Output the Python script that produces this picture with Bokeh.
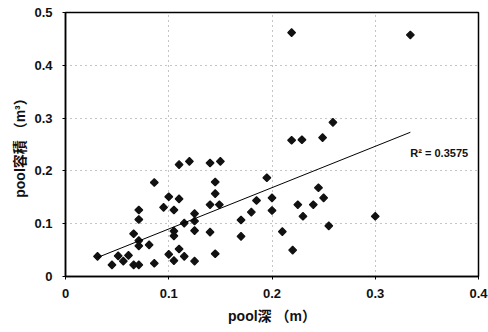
import numpy as np
from bokeh.plotting import figure
from bokeh.models import ColumnDataSource, FixedTicker, Label
from bokeh.embed import file_html
from bokeh.resources import INLINE

# pool depth (m) and pool volume (m^3)
pool_depth = [
    0.031, 0.045, 0.051, 0.056, 0.061, 0.066, 0.066, 0.071, 0.071, 0.071,
    0.071, 0.071, 0.081, 0.086, 0.086, 0.095, 0.100, 0.100, 0.105, 0.105,
    0.105, 0.105, 0.110, 0.110, 0.110, 0.115, 0.115, 0.120, 0.125, 0.125,
    0.125, 0.125, 0.140, 0.140, 0.140, 0.145, 0.145, 0.145, 0.149, 0.150,
    0.170, 0.170, 0.180, 0.185, 0.195, 0.200, 0.200, 0.210, 0.220, 0.225,
    0.230, 0.240, 0.245, 0.250, 0.255, 0.300, 0.219, 0.334, 0.219, 0.229,
    0.249, 0.259,
]
pool_volume = [
    0.038, 0.022, 0.039, 0.029, 0.040, 0.081, 0.022, 0.022, 0.126, 0.108,
    0.068, 0.058, 0.060, 0.025, 0.178, 0.131, 0.151, 0.042, 0.126, 0.086,
    0.077, 0.030, 0.147, 0.052, 0.212, 0.038, 0.101, 0.218, 0.119, 0.105,
    0.087, 0.029, 0.215, 0.136, 0.084, 0.179, 0.157, 0.043, 0.136, 0.218,
    0.107, 0.076, 0.122, 0.144, 0.187, 0.149, 0.125, 0.085, 0.050, 0.136,
    0.114, 0.136, 0.168, 0.149, 0.096, 0.114, 0.462, 0.4575, 0.258, 0.259,
    0.263, 0.292,
]

x_ticks = [0, 0.1, 0.2, 0.3, 0.4]
x_tick_labels = ["0", "0.1", "0.2", "0.3", "0.4"]
y_ticks = [0, 0.1, 0.2, 0.3, 0.4, 0.5]
y_tick_labels = ["0", "0.1", "0.2", "0.3", "0.4", "0.5"]

r2_text = "R² = 0.3575"
x_title = "pool深 （m）"
y_title = "pool容積 （m³）"

FONT = "Liberation Sans, 'Noto Sans CJK JP', sans-serif"

p = figure(width=488, height=332, x_range=(0, 0.4), y_range=(0, 0.5),
           output_backend="svg", toolbar_location=None,
           min_border_left=65, min_border_right=10,
           min_border_top=12, min_border_bottom=56,
           background_fill_color="white", border_fill_color="white")

p.outline_line_color = "black"
p.outline_line_width = 1.5
p.outline_line_alpha = 1.0

# sparse dotted grid
for g in (p.xgrid, p.ygrid):
    g.grid_line_color = "#8a8a8a"
    g.grid_line_dash = "1 4"
    g.grid_line_width = 1
p.xgrid.ticker = FixedTicker(ticks=x_ticks)
p.ygrid.ticker = FixedTicker(ticks=y_ticks)

p.xaxis.ticker = FixedTicker(ticks=x_ticks)
p.yaxis.ticker = FixedTicker(ticks=y_ticks)
p.xaxis.major_label_overrides = dict(zip(x_ticks, x_tick_labels))
p.yaxis.major_label_overrides = dict(zip(y_ticks, y_tick_labels))

for ax in (p.xaxis[0], p.yaxis[0]):
    ax.axis_line_color = "black"
    ax.axis_line_width = 1.5
    ax.major_tick_line_color = "black"
    ax.major_tick_out = 3
    ax.major_tick_in = 0
    ax.minor_tick_line_color = None
    ax.major_label_text_font = FONT
    ax.major_label_text_font_style = "bold"
    ax.major_label_text_font_size = "13px"
    ax.major_label_text_color = "#111111"
    ax.axis_label_text_font = FONT
    ax.axis_label_text_font_style = "bold"
    ax.axis_label_text_font_size = "14px"
    ax.axis_label_text_color = "#111111"

p.xaxis.axis_label = x_title
p.yaxis.axis_label = y_title
p.xaxis.major_label_standoff = 9
p.xaxis.axis_label_standoff = 7
p.yaxis.major_label_standoff = 10
p.yaxis.axis_label_standoff = 3

src = ColumnDataSource(data=dict(x=pool_depth, y=pool_volume))
p.scatter("x", "y", source=src, marker="square", size=5.5, angle=np.pi / 4,
          fill_color="#111111", line_color="#111111", line_width=1.2)

# linear least-squares trend line over the data range
slope, intercept = np.polyfit(pool_depth, pool_volume, 1)
xs = [min(pool_depth), max(pool_depth)]
ys = [slope * v + intercept for v in xs]
p.line(xs, ys, line_color="black", line_width=1)

p.add_layout(Label(x=0.334, y=0.234, text=r2_text, text_font=FONT,
                   text_font_style="bold", text_font_size="11px",
                   text_color="#111111", text_align="left",
                   text_baseline="middle"))

open("out.html", "w").write(file_html(p, INLINE))
